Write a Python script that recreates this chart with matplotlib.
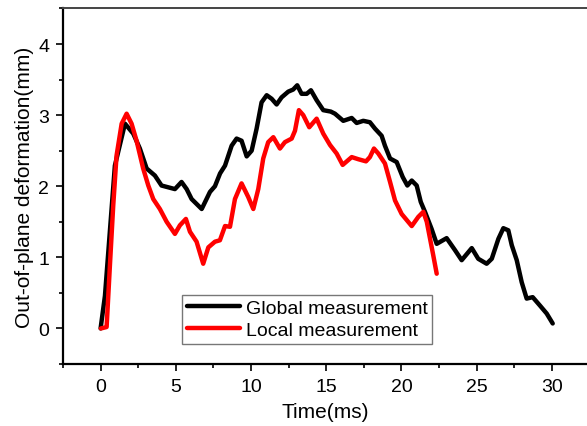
import matplotlib.pyplot as plt
import numpy as np

plt.rcParams['font.family'] = ['Liberation Sans', 'DejaVu Sans']

# global (full-field) measurement
t_global = [0.0, 0.29, 0.95, 1.62, 2.17, 2.61, 3.06, 3.61, 4.05, 4.94, 5.38, 5.72,
            6.05, 6.72, 7.27, 7.6, 7.94, 8.27, 8.71, 9.04, 9.37, 9.71, 10.04, 10.37,
            10.7, 11.04, 11.37, 11.7, 12.03, 12.47, 12.8, 13.07, 13.36, 13.7, 13.98,
            14.36, 14.8, 15.3, 15.58, 16.13, 16.69, 17.02, 17.46, 17.9, 18.24, 18.68,
            18.9, 19.24, 19.68, 20.08, 20.39, 20.68, 21.01, 21.28, 21.56, 22.0, 22.34,
            23.0, 23.56, 24.0, 24.67, 25.1, 25.66, 26.0, 26.44, 26.77, 27.1, 27.33,
            27.66, 27.99, 28.32, 28.72, 29.21, 29.65, 30.05]
d_global = [0.0, 0.46, 2.29, 2.88, 2.74, 2.53, 2.25, 2.15, 2.01, 1.96, 2.06, 1.96,
            1.82, 1.68, 1.92, 2.0, 2.18, 2.29, 2.57, 2.67, 2.64, 2.42, 2.5, 2.81,
            3.18, 3.28, 3.23, 3.15, 3.25, 3.33, 3.36, 3.42, 3.30, 3.30, 3.35,
            3.21, 3.07, 3.05, 3.02, 2.92, 2.96, 2.89, 2.92, 2.90, 2.81, 2.71,
            2.57, 2.39, 2.34, 2.13, 2.01, 2.08, 2.01, 1.78, 1.64, 1.40, 1.19,
            1.27, 1.10, 0.96, 1.13, 0.98, 0.91, 0.98, 1.26, 1.41, 1.38, 1.17,
            0.96, 0.65, 0.42, 0.44, 0.32, 0.21, 0.07]

# local measurement
t_local = [0.02, 0.4, 0.62, 0.84, 1.06, 1.4, 1.73, 2.06, 2.39, 2.83, 3.17, 3.5,
           3.94, 4.39, 4.94, 5.27, 5.67, 5.94, 6.38, 6.82, 7.16, 7.6, 7.93, 8.27,
           8.6, 8.93, 9.37, 9.81, 10.15, 10.48, 10.81, 11.14, 11.48, 11.92, 12.25,
           12.7, 12.92, 13.18, 13.47, 13.87, 14.36, 14.8, 15.25, 15.69, 16.09, 16.69,
           17.13, 17.64, 17.9, 18.17, 18.46, 18.9, 19.24, 19.57, 20.01, 20.68, 21.12,
           21.45, 21.68, 21.9, 22.11, 22.34]
d_local = [0.0, 0.02, 0.89, 1.73, 2.43, 2.88, 3.02, 2.88, 2.64, 2.25, 2.01, 1.82,
           1.68, 1.50, 1.33, 1.45, 1.54, 1.36, 1.22, 0.91, 1.14, 1.22, 1.24, 1.44,
           1.43, 1.82, 2.04, 1.85, 1.68, 1.96, 2.39, 2.62, 2.69, 2.53, 2.62,
           2.67, 2.78, 3.07, 3.0, 2.83, 2.95, 2.74, 2.58, 2.46, 2.30, 2.41,
           2.38, 2.35, 2.41, 2.53, 2.46, 2.32, 2.06, 1.80, 1.61, 1.44, 1.57,
           1.64, 1.50, 1.26, 1.03, 0.77]

fig = plt.figure(figsize=(5.87, 4.27), dpi=100)
ax = fig.add_axes([0.1073, 0.1452, 0.8927, 0.8326])

ax.plot(t_global, d_global, color='black', lw=3.2, label='Global measurement',
        solid_joinstyle='round', solid_capstyle='round')
ax.plot(t_local, d_local, color='#ff0000', lw=3.2, label='Local measurement',
        solid_joinstyle='round', solid_capstyle='round')

ax.set_xlim(-2.5, 32.33)
ax.set_ylim(-0.5, 4.5)
ax.set_xticks([0, 5, 10, 15, 20, 25, 30])
ax.set_xticks(np.arange(-2.5, 32.5, 5), minor=True)
ax.set_yticks([0, 1, 2, 3, 4])
ax.set_yticks(np.arange(-0.5, 4.6, 1), minor=True)
ax.tick_params(which='major', direction='out', length=5, width=1.2, labelsize=14, pad=5)
ax.tick_params(which='minor', direction='out', length=3, width=1.2)

ax.spines['right'].set_visible(False)
ax.spines['left'].set_linewidth(1.6)
ax.spines['bottom'].set_linewidth(1.6)
ax.spines['top'].set_linewidth(1.4)
ax.spines['top'].set_color('#444444')

ax.set_xlabel('Time(ms)', fontsize=15, labelpad=5)
ax.set_ylabel('Out-of-plane deformation(mm)', fontsize=15, labelpad=3)

leg = ax.legend(loc='upper left', bbox_to_anchor=(0.228, 0.195), fontsize=14,
                frameon=True, fancybox=False, edgecolor='#555555',
                handlelength=2.7, handletextpad=0.3, borderpad=0.25,
                labelspacing=0.2, borderaxespad=0.0)
leg.get_frame().set_linewidth(1.0)

fig.savefig('out.png', dpi=100)
